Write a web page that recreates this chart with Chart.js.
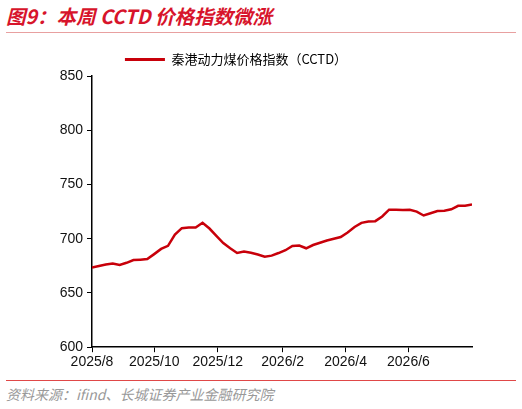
<!DOCTYPE html>
<html><head><meta charset="utf-8">
<script src="https://cdn.jsdelivr.net/npm/chart.js@4"></script>
<style>
body{margin:0;width:522px;height:409px;background:#fff;position:relative;font-family:"Noto Sans CJK SC",sans-serif;overflow:hidden}
#t{position:absolute;left:6px;top:1px;font-size:19.5px;font-weight:bold;font-style:italic;color:#d7142b}
#l1{position:absolute;left:6px;right:6px;top:32px;height:1px;background:#e8a0a0}
#l2{position:absolute;left:6px;right:6px;top:380px;height:1px;background:#e04848}
#s{position:absolute;left:6px;top:384px;font-size:14px;font-style:italic;color:#999}
#c{position:absolute;left:0;top:36px}
</style></head><body>
<div id="t">图9：本周 CCTD 价格指数微涨</div>
<div id="l1"></div>
<div id="c"><canvas id="cv" width="522" height="337"></canvas></div>
<div id="l2"></div>
<div id="s">资料来源：ifind、长城证券产业金融研究院</div>
<script>
const seriesName = "秦港动力煤价格指数（CCTD）";
const values = [673.5,674.9,676.3,677.1,675.8,677.8,680.3,680.7,681.2,685.8,690.6,693.4,703.8,709.7,710.3,710.4,714.7,709.4,702.6,696,691.2,686.9,688.1,687,685.5,683.5,684.4,686.8,689.4,693.4,693.7,691.2,694.2,696.3,698.4,700,701.6,705.8,710.8,714.6,715.9,716.2,720.5,726.8,726.8,726.4,726.6,725,721.4,723.5,725.5,725.7,727.1,730.3,730.5,731.6];
const tickLabels = ["2025/8","2025/10","2025/12","2026/2","2026/4","2026/6"];
const tickPos = [0,9,18.2,27.6,36.7,45.8];
const yTicks = [600,650,700,750,800,850];
const pts = values.map((v,i)=>({x:i,y:v}));
new Chart(document.getElementById('cv'),{
 type:'line',
 data:{datasets:[{label:seriesName,data:pts,borderColor:'#c8000a',borderWidth:2.5,pointRadius:0,tension:0}]},
 options:{responsive:false,animation:false,
  layout:{padding:{left:0,right:50,top:0,bottom:0}},
  plugins:{legend:{labels:{boxWidth:40,boxHeight:0,color:'#222',font:{size:13,family:'"Noto Sans CJK SC"'},padding:17,
     generateLabels:(c)=>[{text:seriesName,strokeStyle:'#c8000a',fillStyle:'#c8000a',lineWidth:3}]}},tooltip:{enabled:false}},
  scales:{
   x:{type:'linear',min:0,max:55,
     afterBuildTicks:(a)=>{a.ticks=tickPos.map(v=>({value:v}));},
     ticks:{autoSkip:false,maxRotation:0,color:'#111',font:{size:14,family:'"Liberation Sans"'},padding:2,
       callback:(v)=>{const i=tickPos.indexOf(v);return i>=0?tickLabels[i]:'';}},
     grid:{display:true,drawOnChartArea:false,tickLength:5,color:'#000'},border:{color:'#000',width:1.5}},
   y:{min:600,max:850,
     afterBuildTicks:(a)=>{a.ticks=yTicks.map(v=>({value:v}));},
     ticks:{color:'#111',font:{size:14,family:'"Liberation Sans"'},padding:4},
     grid:{display:true,drawOnChartArea:false,tickLength:5,color:'#000'},border:{color:'#000',width:1.5},
     afterFit:(a)=>{a.width=92;}}
  }}
});
</script>
</body></html>
